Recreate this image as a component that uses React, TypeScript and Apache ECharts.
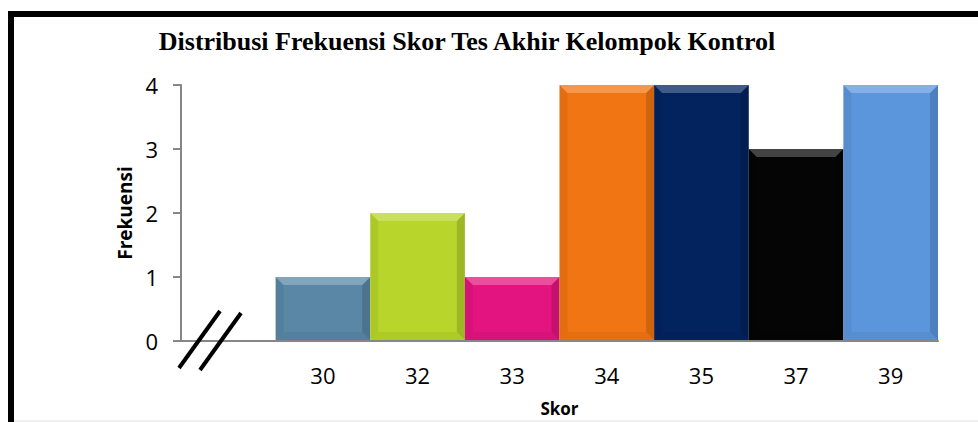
import React, { useEffect, useRef } from "react";
import * as echarts from "echarts";

const titleText = "Distribusi Frekuensi Skor Tes Akhir Kelompok Kontrol";
const categories = ["", "30", "32", "33", "34", "35", "37", "39"];
const frequencies = [null, 1, 2, 1, 4, 4, 3, 4];
const barColors = ["#ffffff", "#5A87A6", "#B7D52A", "#E3147F", "#F17512", "#03235F", "#050505", "#5B96DC"];
const yTicks = [0, 1, 2, 3, 4];
const xName = "Skor";
const yName = "Frekuensi";

export default function App() {
  const ref = useRef<HTMLDivElement>(null);
  useEffect(() => {
    if (!ref.current) return;
    const chart = echarts.init(ref.current, null, { renderer: "svg" });
    const data = categories
      .map((c, i) => ({ c, v: frequencies[i], i }))
      .filter((d) => d.v !== null)
      .map((d) => ({ value: [d.c, d.v], colorIdx: d.i }));
    chart.setOption({
      animation: false,
      backgroundColor: "#ffffff",
      title: {
        text: titleText,
        left: 462,
        top: 23,
        textAlign: "center",
        textStyle: {
          fontFamily: "Liberation Serif",
          fontWeight: "bold",
          fontSize: 26,
          color: "#000",
        },
      },
      grid: { left: 181, right: 40, top: 85, bottom: 80, containLabel: false },
      xAxis: {
        type: "category",
        data: categories,
        boundaryGap: true,
        name: xName,
        nameLocation: "middle",
        nameGap: 59,
        nameTextStyle: { fontFamily: "Open Sans", fontWeight: "bold", fontSize: 17, color: "#000" },
        axisLine: { show: true, lineStyle: { color: "#868686", width: 2 } },
        axisTick: { show: false },
        axisLabel: { fontFamily: "Open Sans", fontSize: 22, color: "#000", margin: 23 },
        splitLine: { show: false },
      },
      yAxis: {
        type: "value",
        min: yTicks[0],
        max: yTicks[yTicks.length - 1],
        interval: 1,
        name: yName,
        nameLocation: "middle",
        nameGap: 46,
        nameRotate: 90,
        nameTextStyle: { fontFamily: "Open Sans", fontWeight: "bold", fontSize: 19, color: "#000" },
        axisLine: { show: true, lineStyle: { color: "#868686", width: 2 } },
        axisTick: { show: true, length: 8, lineStyle: { color: "#868686", width: 2 } },
        axisLabel: { fontFamily: "Open Sans", fontSize: 22, color: "#000", margin: 23 },
        splitLine: { show: false },
      },
      series: [
        {
          type: "custom",
          data,
          encode: { x: 0, y: 1 },
          renderItem: (params: any, api: any) => {
            const idx = api.value(0);
            const v = api.value(1);
            const top = api.coord([idx, v]);
            const base = api.coord([idx, 0]);
            const w = api.size([1, 0])[0];
            const x0 = top[0] - w / 2;
            const x1 = top[0] + w / 2;
            const y0 = top[1];
            const y1 = base[1] - 1;
            const color = barColors[(data[params.dataIndex] as any).colorIdx];
            const b = 8;
            return {
              type: "group",
              children: [
                { type: "rect", shape: { x: x0, y: y0, width: w, height: y1 - y0 }, style: { fill: color } },
                {
                  type: "polygon",
                  shape: { points: [[x0, y0], [x0 + b, y0 + b], [x0 + b, y1 - b], [x0, y1]] },
                  style: { fill: "rgba(0,0,0,0.06)" },
                },
                {
                  type: "polygon",
                  shape: { points: [[x1, y0], [x1 - b, y0 + b], [x1 - b, y1 - b], [x1, y1]] },
                  style: { fill: "rgba(0,0,0,0.14)" },
                },
                {
                  type: "polygon",
                  shape: { points: [[x0, y0], [x1, y0], [x1 - b, y0 + b], [x0 + b, y0 + b]] },
                  style: { fill: "rgba(255,255,255,0.25)" },
                },
                {
                  type: "polygon",
                  shape: { points: [[x0, y1], [x1, y1], [x1 - b, y1 - b], [x0 + b, y1 - b]] },
                  style: { fill: "rgba(0,0,0,0.05)" },
                },
              ],
            };
          },
        },
      ],
      graphic: [
        {
          type: "rect",
          shape: { x: 11, y: 14, width: 1100, height: 600 },
          style: { fill: "none", stroke: "#000", lineWidth: 6 },
          z: 100,
        },
        {
          type: "line",
          shape: { x1: 14, y1: 421, x2: 978, y2: 421 },
          style: { stroke: "#e0e0e0", lineWidth: 1 },
        },
        {
          type: "line",
          shape: { x1: 179, y1: 368, x2: 220, y2: 311 },
          style: { stroke: "#000", lineWidth: 4 },
          z: 100,
        },
        {
          type: "line",
          shape: { x1: 200, y1: 370, x2: 241, y2: 313 },
          style: { stroke: "#000", lineWidth: 4 },
          z: 100,
        },
      ],
    });
    return () => chart.dispose();
  }, []);
  return <div ref={ref} style={{ width: 978, height: 422, position: "absolute", left: 0, top: 0 }} />;
}
